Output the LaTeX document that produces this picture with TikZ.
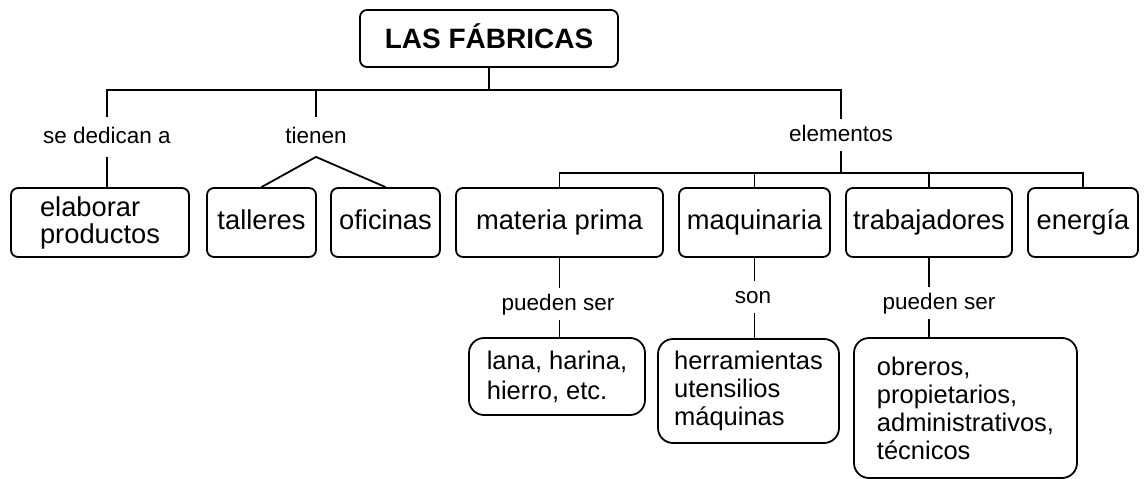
\documentclass[tikz,border=0pt]{standalone}
\usepackage{fontspec}
\setmainfont{Liberation Sans}
\begin{document}
\begin{tikzpicture}[x=1pt, y=-1pt, line width=1.8pt,
  cell/.style={draw, rounded corners=7pt, inner sep=0pt, minimum height=69pt,
    font=\fontsize{27.3}{27}\selectfont},
  box/.style={cell, text height=19.5pt, text depth=6pt},
  leaf/.style={draw, rounded corners=15pt, inner sep=0pt, align=left,
    font=\fontsize{25.5}{28}\selectfont},
  lbl/.style={anchor=base, inner xsep=0pt, inner ysep=4pt, text height=17pt,
    text depth=5pt, font=\fontsize{22.5}{24}\selectfont}]
\useasboundingbox (0,0) rectangle (1144,479);
% Title
\node[draw, rounded corners=7pt, inner sep=0pt, minimum width=258pt, minimum height=57pt,
  text height=20pt, text depth=0pt, font=\bfseries\fontsize{28}{30}\selectfont]
  (title) at (489,38.5) {LAS FÁBRICAS};
% Links of the first level
\node[lbl, inner ysep=8pt] (sed) at (107,143) {se dedican a};
\node[lbl, inner ysep=8pt] (tie) at (316,143) {tienen};
\node[lbl] (ele) at (841,141) {elementos};
% Row of boxes
\node[cell, align=left, minimum width=178pt] (elab) at (100,222.5) {elaborar\\productos};
\node[box, minimum width=109pt] (tall) at (261.5,222.5) {talleres};
\node[box, minimum width=109pt] (ofi) at (385.5,222.5) {oficinas};
\node[box, minimum width=207pt] (matp) at (559.5,222.5) {materia prima};
\node[box, minimum width=151pt] (maq) at (754.5,222.5) {maquinaria};
\node[box, minimum width=166pt] (trab) at (929,222.5) {trabajadores};
\node[box, minimum width=110pt] (ener) at (1083,222.5) {energía};
% Links of the second level
\node[lbl] (pm1) at (558,310) {pueden ser};
\node[lbl] (son) at (753,303) {son};
\node[lbl] (pm2) at (939,309) {pueden ser};
% Bottom boxes
\node[leaf, minimum width=176pt, minimum height=77pt, font=\fontsize{25.5}{30}\selectfont]
  (lana) at (557,376.5) {lana, harina,\\hierro, etc.};
\node[leaf, minimum width=181pt, minimum height=104pt] (herr) at (748.5,391)
  {herramientas\\utensilios\\máquinas};
\node[leaf, minimum width=223pt, minimum height=140pt] (obr) at (965.5,408)
  {obreros,\\propietarios,\\administrativos,\\técnicos};
% Upper bus
\coordinate (b1) at (489,90);
\draw (title.south) -- (b1);
\draw (sed.north) |- (b1) -| (ele.north);
\draw (tie.north) -- (tie.north |- b1);
\draw (sed.south) -- (sed.south |- elab.north);
\draw (tall.north) -- (tie.south) -- (ofi.north);
% Lower bus
\coordinate (b2) at (841,173);
\draw (ele.south) -- (b2);
\draw (matp.north) |- (b2) -| (ener.north);
\foreach \n in {maq,trab}
  \draw (\n.north) -- (\n.north |- b2);
% Down to the bottom boxes
\draw (matp.south) -- (matp.south |- pm1.north);
\draw (matp.south |- pm1.south) -- (matp.south |- lana.north);
\draw (maq.south) -- (maq.south |- son.north);
\draw (maq.south |- son.south) -- (maq.south |- herr.north);
\draw (trab.south) -- (trab.south |- pm2.north);
\draw (trab.south |- pm2.south) -- (trab.south |- obr.north);
\end{tikzpicture}
\end{document}
